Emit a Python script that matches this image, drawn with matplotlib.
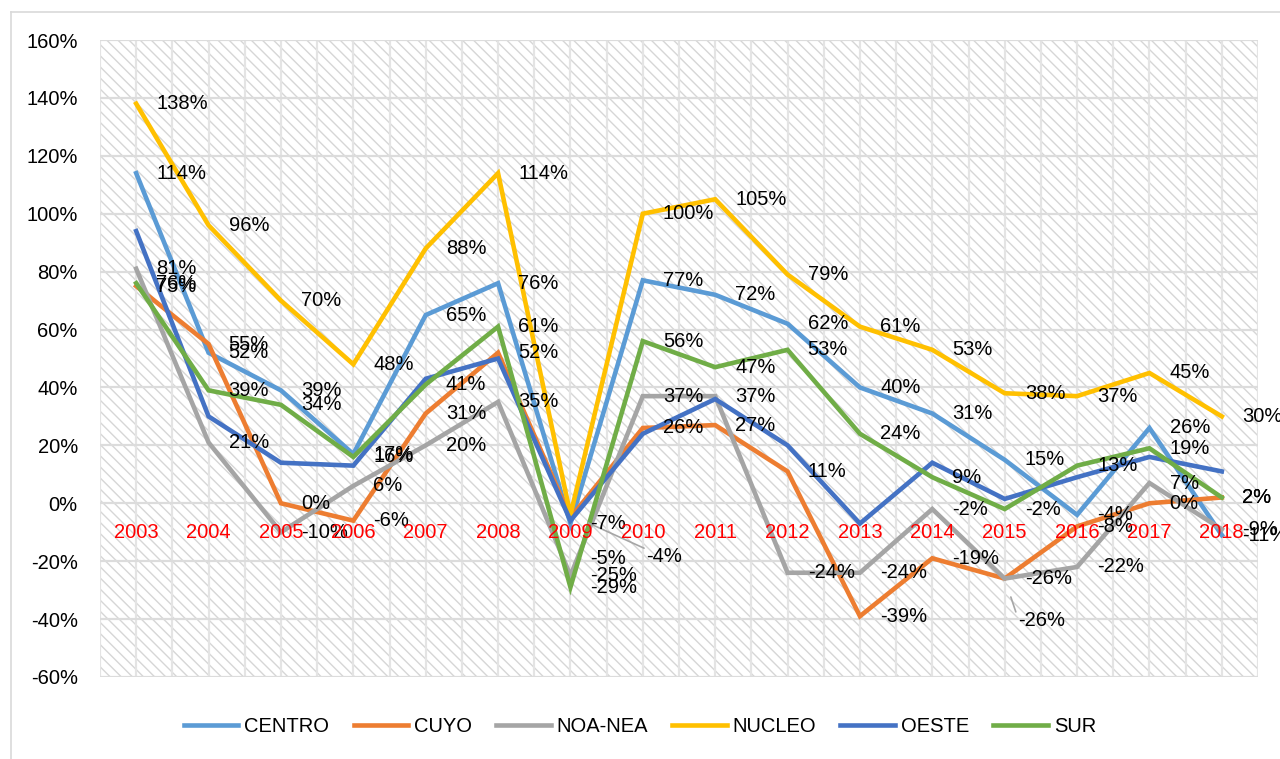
import numpy as np
import matplotlib
matplotlib.use("Agg")
from matplotlib import pyplot as plt
from matplotlib.patches import Rectangle
from matplotlib.lines import Line2D

# Data ------------------------------------------
years = ["2003", "2004", "2005", "2006", "2007", "2008", "2009", "2010",
         "2011", "2012", "2013", "2014", "2015", "2016", "2017", "2018"]

centro = [114, 52, 39, 17, 65, 76, -7, 77, 72, 62, 40, 31, 15, -4, 26, -11]
cuyo = [75, 55, 0, -6, 31, 52, -5, 26, 27, 11, -39, -19, -26, -8, 0, 2]
noa_nea = [81, 21, -10, 6, 20, 35, -25, 37, 37, -24, -24, -2, -26, -22, 7, -9]
nucleo = [138, 96, 70, 48, 88, 114, -4, 100, 105, 79, 61, 53, 38, 37, 45, 30]
oeste = [94, 30, 14, 13, 43, 50, -6, 24, 36, 20, -7, 14, 1.5, 9, 16, 11]
sur = [76, 39, 34, 16, 41, 61, -29, 56, 47, 53, 24, 9, -2, 13, 19, 2]

series_names = ["CENTRO", "CUYO", "NOA-NEA", "NUCLEO", "OESTE", "SUR"]
series_values = [centro, cuyo, noa_nea, nucleo, oeste, sur]
colors = ["#5B9BD5", "#ED7D31", "#A5A5A5", "#FFC000", "#4472C4", "#70AD47"]
labelled = [True, True, True, True, False, True]

# labels dragged away from their point: (series, year index) -> (dx, dy, leader line)
moved = {("CUYO", 6): (0, -29, False),
         ("NUCLEO", 6): (40, -30, True),
         ("NOA-NEA", 12): (-5, -30, True)}

fs = 14.5
plt.rcParams["font.family"] = ["Liberation Sans", "DejaVu Sans"]
plt.rcParams["hatch.linewidth"] = 1.0

fig = plt.figure(figsize=(12.8, 7.59), dpi=100)
ax = fig.add_axes([100 / 1280, 1 - 677 / 759, 1158 / 1280, 637 / 759])

x = np.arange(len(years))

# hatched background
ax.add_patch(Rectangle((0, 0), 1, 1, transform=ax.transAxes, facecolor="white",
                       edgecolor="#d6d6d6", hatch="\\\\\\", lw=0, zorder=0))

for xv in np.arange(-0.5, 15.51, 0.5):
    ax.axvline(xv, color="#e4e4e4", lw=1.6, zorder=1)
for yv in range(-60, 161, 20):
    ax.axhline(yv, color="#dcdcdc", lw=1.6, zorder=1)

for name, vals, c in zip(series_names, series_values, colors):
    ax.plot(x, vals, color=c, lw=3.3, label=name, zorder=3, solid_joinstyle="miter")

# data labels
for name, vals, c, lab in zip(series_names, series_values, colors, labelled):
    if not lab:
        continue
    for i, v in enumerate(vals):
        dx, dy, leader = moved.get((name, i), (0, 0, False))
        ax.annotate("%d%%" % round(v), xy=(i, v), xytext=(14.5 + dx, dy),
                    textcoords="offset points", ha="left", va="center",
                    fontsize=fs, color="black", zorder=5)
        if leader:
            ax.annotate("", xy=(i, v), xytext=(13 + dx, dy + 6),
                        textcoords="offset points",
                        arrowprops=dict(arrowstyle="-", color="#a6a6a6", lw=1.2,
                                        shrinkA=0, shrinkB=14),
                        zorder=4)

# red category labels just below the zero line
for i, yr in enumerate(years):
    ax.annotate(yr, xy=(i, 0), xytext=(0, -21), textcoords="offset points",
                ha="center", va="center", color="red", fontsize=fs, zorder=6)

ax.set_xlim(-0.5, 15.5)
ax.set_ylim(-60, 160)
ax.set_xticks([])
ax.set_yticks(range(-60, 161, 20))
ax.set_yticklabels(["%d%%" % t for t in range(-60, 161, 20)], fontsize=fs)
ax.tick_params(axis="y", length=0, pad=16)
for s in ax.spines.values():
    s.set_visible(False)

fig.legend(loc="center", bbox_to_anchor=(0.5, 1 - 727 / 759), ncol=6,
           frameon=False, fontsize=fs, handlelength=2.7, handletextpad=0.3,
           columnspacing=1.2)

# chart border
fig.add_artist(Line2D([11 / 1280, 11 / 1280], [0, 1 - 12 / 759], color="#d9d9d9", lw=1.2))
fig.add_artist(Line2D([11 / 1280, 1], [1 - 12 / 759, 1 - 12 / 759], color="#d9d9d9", lw=1.2))

fig.savefig("out.png", dpi=100)
